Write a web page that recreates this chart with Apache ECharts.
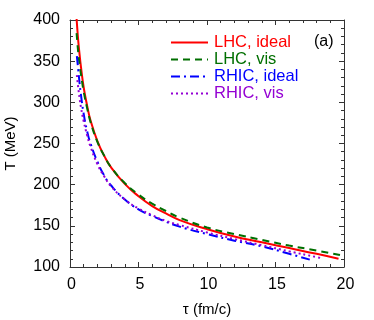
<!doctype html>
<html lang="en">
<head>
    <meta charset="UTF-8">
    <title>T vs tau</title>
    <script src="https://cdn.jsdelivr.net/npm/echarts@6/dist/echarts.min.js"></script>
    <style>
        html, body { margin: 0; padding: 0; background: #fff; }
    </style>
</head>
<body>
    <div id="main" style="width: 374px;height:320px;"></div>
    <script>
        // tau (fm/c), T (MeV) pairs
        var lhcIdeal = [
            [0.45, 410], [0.5, 397], [0.6, 375], [0.7, 358], [0.8, 343], [1.0, 318],
            [1.25, 296], [1.5, 278], [2, 253], [2.5, 235], [3, 221], [4, 201],
            [5, 186], [6, 174], [7, 165], [8, 157], [10, 146], [12, 137],
            [14, 130], [16, 123], [18, 116], [19.6, 110]
        ];
        var lhcVis = [
            [0.48, 384], [0.55, 370], [0.6, 361], [0.7, 346], [0.8, 334], [1.0, 313],
            [1.25, 293], [1.5, 276], [2, 252], [2.5, 235], [3, 221], [4, 202],
            [5, 188], [6, 177], [7, 168], [8, 160], [10, 148], [12, 140],
            [14, 133], [16, 126], [18, 120], [20, 113.5]
        ];
        var rhicIdeal = [
            [0.5, 356], [0.6, 340], [0.7, 323], [0.8, 309], [1.0, 286], [1.25, 265],
            [1.5, 250], [2, 228], [2.5, 211], [3, 199], [4, 182], [5, 170],
            [6, 162], [7, 155], [8, 149], [10, 140], [12, 132], [14, 125],
            [16, 116], [17.5, 109]
        ];
        var rhicVis = [
            [0.5, 333], [0.6, 318], [0.7, 305], [0.8, 294], [1.0, 277], [1.25, 260],
            [1.5, 246], [2, 225], [2.5, 210], [3, 198], [4, 182], [5, 171],
            [6, 163], [7, 156], [8, 151], [10, 142], [12, 134], [14, 126.5],
            [16, 119], [18, 112], [18.4, 110.5]
        ];
        var names = ['LHC, ideal', 'LHC, vis', 'RHIC, ideal', 'RHIC, vis'];
        var colors = ['#ff0000', '#006f00', '#0000ff', '#9400d3'];
        var dashes = ['solid', [7, 5], [9, 4, 2, 4], [2, 3]];

        var font = 'Liberation Sans, Arial, sans-serif';
        var chart = echarts.init(document.getElementById('main'));

        function axis(pos, show) {
            return {
                position: pos,
                axisLine: { show: true, onZero: false, lineStyle: { color: '#333', width: 1 } },
                axisTick: { show: true, inside: true, length: 5, lineStyle: { color: '#333' } },
                minorTick: { show: true, splitNumber: 5, length: 3, lineStyle: { color: '#333' } },
                splitLine: { show: false },
                axisLabel: { show: show, color: '#000', fontSize: 16, fontFamily: font }
            };
        }

        var xb = axis('bottom', true);
        xb.type = 'value'; xb.min = 0; xb.max = 20; xb.interval = 5;
        xb.name = 'τ (fm/c)'; xb.nameLocation = 'middle'; xb.nameGap = 35;
        xb.nameTextStyle = { color: '#000', fontSize: 15, fontFamily: font };
        xb.axisLabel.margin = 10;
        xb.axisLabel.padding = [0, 0, 0, 3];
        var xt = axis('top', false);
        xt.type = 'value'; xt.min = 0; xt.max = 20; xt.interval = 5;

        var yl = axis('left', true);
        yl.type = 'value'; yl.min = 100; yl.max = 400; yl.interval = 50;
        yl.name = 'T (MeV)'; yl.nameLocation = 'middle'; yl.nameGap = 52;
        yl.nameTextStyle = { color: '#000', fontSize: 15, fontFamily: font };
        yl.axisLabel.margin = 10;
        var yr = axis('right', false);
        yr.type = 'value'; yr.min = 100; yr.max = 400; yr.interval = 50;

        var series = [lhcIdeal, lhcVis, rhicIdeal, rhicVis].map(function (d, i) {
            return {
                name: names[i],
                type: 'line',
                data: d,
                smooth: true,
                showSymbol: false,
                symbol: 'none',
                clip: true,
                xAxisIndex: 0,
                yAxisIndex: 0,
                lineStyle: { color: colors[i], width: 2, type: dashes[i] },
                itemStyle: { color: colors[i] }
            };
        });

        chart.setOption({
            animation: false,
            backgroundColor: '#fff',
            grid: { left: 70, right: 30, top: 20, bottom: 53, containLabel: false, outerBoundsMode: 'none' },
            xAxis: [xb, xt],
            yAxis: [yl, yr],
            legend: {
                orient: 'vertical',
                left: 170,
                top: 34,
                padding: 0,
                itemWidth: 37,
                itemHeight: 12,
                itemGap: 0,
                itemStyle: { opacity: 0 },
                data: names.map(function (n, i) {
                    return { name: n, textStyle: { color: colors[i] } };
                }),
                textStyle: { fontSize: 16.5, fontFamily: font, padding: [0, 0, 0, 1] }
            },
            graphic: [{
                type: 'text',
                left: 314,
                top: 34,
                style: { text: '(a)', fill: '#000', font: '16px ' + font }
            }],
            series: series
        });
    </script>
</body>
</html>
